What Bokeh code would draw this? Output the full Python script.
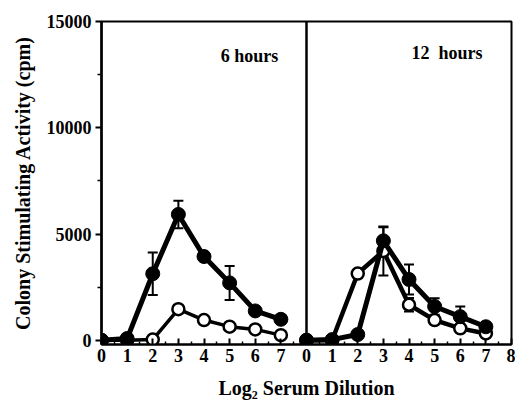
from bokeh.plotting import figure
from bokeh.models import (ColumnDataSource, FixedTicker, Span, Whisker, TeeHead, Range1d)
from bokeh.core.properties import value
from bokeh.embed import file_html
from bokeh.resources import INLINE

# ---- data ----
dilution = [0, 1, 2, 3, 4, 5, 6, 7]
h6_filled = [0, 80, 3130, 5920, 3940, 2700, 1380, 985]
h6_filled_err = [0, 0, 1000, 650, 0, 800, 0, 0]
h6_open = [0, 0, 30, 1460, 950, 640, 510, 240]
h6_open_err = [0, 0, 0, 150, 0, 0, 0, 0]
h12_filled = [0, 30, 270, 4680, 2860, 1590, 1110, 635]
h12_filled_err = [0, 0, 0, 640, 710, 390, 480, 0]
h12_open = [0, 0, 3140, 4200, 1670, 950, 560, 320]
h12_open_err = [0, 0, 0, 1150, 320, 0, 0, 0]
panel_titles = ["6 hours", "12\u00a0 hours"]
left_tick_labels = ["0", "1", "2", "3", "4", "5", "6", "7"]
right_tick_labels = ["0", "1", "2", "3", "4", "5", "6", "7", "8"]
y_ticks = [0, 5000, 10000, 15000]
y_minor = [2500, 7500, 12500]

PANEL_OFFSET = 8  # right panel starts where the left panel's axis ends
FONT = "Liberation Serif"

p = figure(width=515, height=403, output_backend="svg", toolbar_location=None,
           x_range=Range1d(0, 16), y_range=Range1d(-200, 15000),
           min_border_left=101, min_border_right=4, min_border_top=21, min_border_bottom=59)
p.xgrid.visible = False
p.ygrid.visible = False
p.outline_line_color = "black"
p.outline_line_width = 2
p.background_fill_color = "white"
p.border_fill_color = "white"

# x ticks and labels
xt = list(range(0, 17))
labels = {}
for i, t in enumerate(left_tick_labels):
    labels[i] = t
for i, t in enumerate(right_tick_labels):
    labels[i + PANEL_OFFSET] = t
p.xaxis.ticker = FixedTicker(ticks=xt, minor_ticks=[t + 0.5 for t in range(16)])
p.xaxis.major_label_overrides = labels
p.xaxis.major_tick_in = 6
p.xaxis.major_tick_out = 0
p.xaxis.minor_tick_in = 3
p.xaxis.minor_tick_out = 0
p.xaxis.axis_line_width = 2
p.xaxis.major_tick_line_width = 2
p.xaxis.minor_tick_line_width = 1.5
p.xaxis.axis_label = "Log\u2082 Serum Dilution"

p.yaxis.ticker = FixedTicker(ticks=y_ticks, minor_ticks=y_minor)
p.yaxis.major_tick_in = 0
p.yaxis.major_tick_out = 6
p.yaxis.minor_tick_in = 0
p.yaxis.minor_tick_out = 4
p.yaxis.axis_line_width = 2.5
p.yaxis.major_tick_line_width = 2
p.yaxis.minor_tick_line_width = 1.5
p.yaxis.axis_label = "Colony Stimulating Activity (cpm)"

for ax in (p.xaxis, p.yaxis):
    ax.major_label_text_font = FONT
    ax.major_label_text_font_style = "bold"
    ax.major_label_text_font_size = "18px"
    ax.major_label_text_color = "black"
    ax.axis_label_text_font = FONT
    ax.axis_label_text_font_style = "bold"
    ax.axis_label_text_font_size = "20px"
    ax.axis_label_text_color = "black"
    ax.axis_line_color = "black"
    ax.major_tick_line_color = "black"
    ax.minor_tick_line_color = "black"
p.xaxis.major_label_standoff = 4
p.xaxis.axis_label_standoff = 12
p.yaxis.major_label_standoff = 4
p.yaxis.axis_label_standoff = 10
p.yaxis.major_label_orientation = "horizontal"

# divider between panels
p.add_layout(Span(location=PANEL_OFFSET, dimension="height", line_color="black", line_width=2.5))

def draw(offset, yvals, errs, filled, open_width=3.5):
    xs = [d + offset for d in dilution]
    src = ColumnDataSource(dict(x=xs, y=yvals))
    if filled:
        p.line("x", "y", source=src, line_color="black", line_width=5)
        p.scatter("x", "y", source=src, marker="circle", size=14,
                  fill_color="black", line_color="black", line_width=1)
    else:
        p.line("x", "y", source=src, line_color="black", line_width=open_width)
        p.scatter("x", "y", source=src, marker="circle", size=12,
                  fill_color="white", line_color="black", line_width=2.5)
    ex, eu, el = [], [], []
    for x, y, e in zip(xs, yvals, errs):
        if e > 0:
            ex.append(x)
            eu.append(y + e)
            el.append(y - e)
    if ex:
        esrc = ColumnDataSource(dict(base=ex, upper=eu, lower=el))
        w = Whisker(source=esrc, base="base", upper="upper", lower="lower",
                    line_color="black", line_width=2,
                    upper_head=TeeHead(size=10, line_width=2, line_color="black"),
                    lower_head=TeeHead(size=10, line_width=2, line_color="black"))
        p.add_layout(w)

draw(0, h6_open, h6_open_err, False, 3.5)
draw(0, h6_filled, h6_filled_err, True)
draw(PANEL_OFFSET, h12_open, h12_open_err, False, 4.5)
draw(PANEL_OFFSET, h12_filled, h12_filled_err, True)

title_src = ColumnDataSource(dict(x=[4.65, PANEL_OFFSET + 4.1], y=[13400, 13500], t=panel_titles))
p.text("x", "y", text="t", source=title_src, text_font=value(FONT), text_font_style="bold",
       text_font_size="18px", text_baseline="middle", text_align="left", text_color="black")

open("out.html", "w").write(file_html(p, INLINE))
